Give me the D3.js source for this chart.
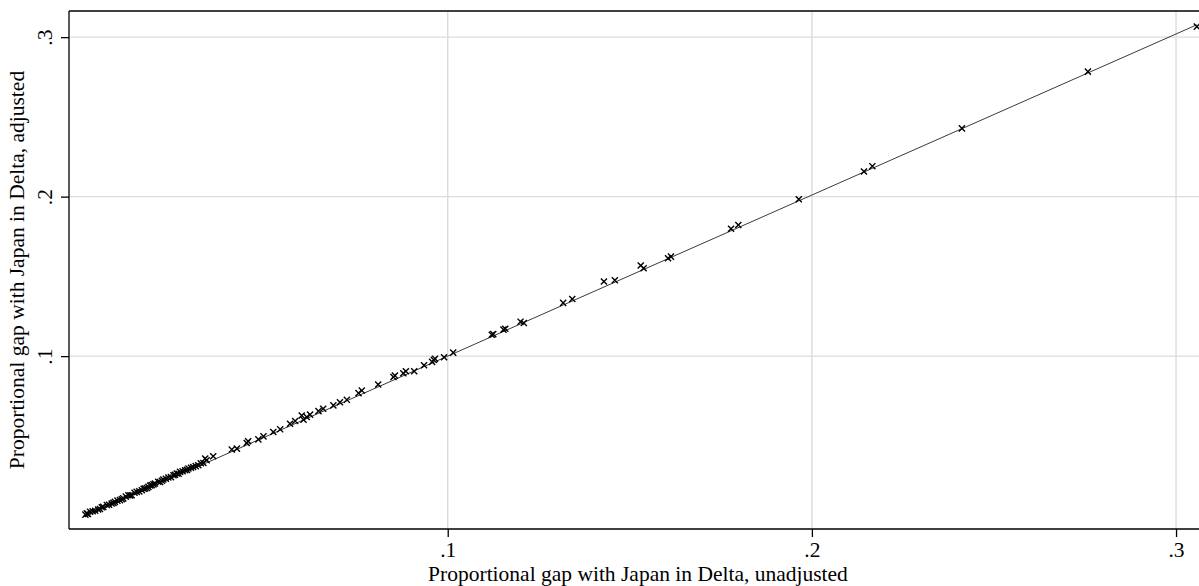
<!DOCTYPE html>
<html>
<head>
<meta charset="utf-8">
<script src="https://cdn.jsdelivr.net/npm/d3@7"></script>
<style>
  html, body { margin: 0; padding: 0; background: #fff; }
  svg { display: block; }
  text { font-family: "Liberation Serif", "Times New Roman", serif; fill: #000; }
</style>
</head>
<body>
<svg id="chart" width="1199" height="586"></svg>
<script>
// ---- data ----
const xUnadjusted = [
  0.0005,0.0009,0.0018,0.0032,0.0045,0.0054,0.0064,0.0077,0.0086,0.0100,0.0109,0.0123,0.0132,0.0146,0.0160,0.0169,
  0.0178,0.0187,0.0196,0.0210,0.0219,0.0233,0.0247,0.0256,0.0265,0.0279,0.0288,0.0301,0.0315,0.0329,0.0338,
  0.0012,0.0025,0.0040,0.0050,0.0070,0.0082,0.0093,0.0105,0.0116,0.0128,0.0140,0.0153,0.0165,0.0174,0.0183,0.0192,
  0.0205,0.0215,0.0226,0.0240,0.0251,0.0261,0.0272,0.0284,0.0295,0.0308,0.0322,
  0.0334,0.0356,0.0407,0.0421,0.0448,0.0452,0.0480,0.0494,0.0521,0.0540,0.0567,0.0581,0.0599,0.0604,0.0613,0.0622,
  0.0645,0.0658,0.0686,0.0704,0.0723,0.0755,0.0764,0.0809,0.0851,0.0855,0.0878,0.0885,0.0908,0.0935,0.0957,0.0962,
  0.0965,0.0990,0.1015,
  0.1121,0.1125,0.1153,0.1158,0.1200,0.1209,0.1317,0.1342,0.1429,0.1459,0.1530,0.1538,0.1605,0.1613,0.1778,0.1798,
  0.1964,0.2143,0.2166,0.2412,0.2758,0.3057
];
const yAdjusted = [
  0.0006,0.0014,0.0024,0.0030,0.0041,0.0055,0.0066,0.0076,0.0086,0.0097,0.0108,0.0128,0.0128,0.0149,0.0159,0.0170,
  0.0180,0.0191,0.0201,0.0211,0.0226,0.0239,0.0253,0.0264,0.0274,0.0284,0.0295,0.0305,0.0316,0.0330,0.0347,
  0.0010,0.0027,0.0038,0.0052,0.0068,0.0080,0.0094,0.0103,0.0119,0.0126,0.0143,0.0152,0.0168,0.0173,0.0189,0.0196,
  0.0212,0.0219,0.0231,0.0241,0.0256,0.0262,0.0278,0.0287,0.0300,0.0310,0.0328,
  0.0358,0.0372,0.0414,0.0420,0.0455,0.0466,0.0478,0.0497,0.0524,0.0541,0.0576,0.0593,0.0628,0.0601,0.0618,0.0633,
  0.0655,0.0670,0.0691,0.0711,0.0726,0.0768,0.0784,0.0822,0.0869,0.0878,0.0893,0.0905,0.0905,0.0943,0.0964,0.0976,
  0.0984,0.0993,0.1022,
  0.1134,0.1138,0.1166,0.1172,0.1216,0.1208,0.1334,0.1358,0.1468,0.1476,0.1568,0.1551,0.1614,0.1624,0.1799,0.1822,
  0.1984,0.2158,0.2191,0.2428,0.2784,0.3066
];
// linear fit line (intercept, slope)
const fitIntercept = -0.001;
const fitSlope = 1.01;

const xTickValues = [0.1, 0.2, 0.3];
const xTickLabels = [".1", ".2", ".3"];
const yTickValues = [0.1, 0.2, 0.3];
const yTickLabels = [".1", ".2", ".3"];

const xTitle = "Proportional gap with Japan in Delta, unadjusted";
const yTitle = "Proportional gap with Japan in Delta, adjusted";

// ---- layout ----
const L = 69, R = 1207, T = 11, B = 529;
const FS = 21.5;
const svg = d3.select("#chart");

const x = d3.scaleLinear().domain([-0.004, 0.3085]).range([L, R]);
const y = d3.scaleLinear().domain([-0.0084, 0.3164]).range([B, T]);

// gridlines
const grid = svg.append("g");
grid.selectAll("line.gx").data(xTickValues).join("line")
  .attr("x1", d => x(d)).attr("x2", d => x(d))
  .attr("y1", T).attr("y2", B)
  .attr("stroke", "#dcdcdc").attr("stroke-width", 1.4);
grid.selectAll("line.gy").data(yTickValues).join("line")
  .attr("y1", d => y(d)).attr("y2", d => y(d))
  .attr("x1", L).attr("x2", R)
  .attr("stroke", "#dcdcdc").attr("stroke-width", 1.4);

// fit line
const xs = d3.extent(xUnadjusted);
const fitPts = xs.map(v => [v, fitIntercept + fitSlope * v]);
svg.append("path")
  .attr("d", d3.line().x(d => x(d[0])).y(d => y(d[1]))(fitPts))
  .attr("fill", "none").attr("stroke", "#3a3a3a").attr("stroke-width", 1);

// markers (x shapes)
const pts = xUnadjusted.map((v, i) => [v, yAdjusted[i]]);
const sym = d3.symbol().type(d3.symbolX).size(26);
svg.append("g").selectAll("path").data(pts).join("path")
  .attr("transform", d => `translate(${x(d[0])},${y(d[1])})`)
  .attr("d", sym)
  .attr("fill", "none").attr("stroke", "#000").attr("stroke-width", 1.4);

// frame
svg.append("line").attr("x1", L).attr("x2", R).attr("y1", T).attr("y2", T)
  .attr("stroke", "#000").attr("stroke-width", 1.3);
svg.append("line").attr("x1", R).attr("x2", R).attr("y1", T).attr("y2", B)
  .attr("stroke", "#000").attr("stroke-width", 1.3);

// x axis
const xAxis = d3.axisBottom(x).tickValues(xTickValues)
  .tickFormat((d, i) => xTickLabels[i]).tickSize(8);
const gx = svg.append("g").attr("transform", `translate(0,${B})`).call(xAxis);
gx.select(".domain").attr("stroke", "#000").attr("stroke-width", 1.3)
  .attr("d", `M${L},0H${R}`);
gx.selectAll(".tick line").attr("stroke", "#000").attr("stroke-width", 1.3);
gx.selectAll(".tick text").attr("font-size", FS).attr("dy", null).attr("y", 28)
  .style("font-family", "'Liberation Serif', serif");

// y axis
const yAxis = d3.axisLeft(y).tickValues(yTickValues)
  .tickFormat((d, i) => yTickLabels[i]).tickSize(8);
const gy = svg.append("g").attr("transform", `translate(${L},0)`).call(yAxis);
gy.select(".domain").attr("stroke", "#000").attr("stroke-width", 1.3)
  .attr("d", `M0,${T}V${B}`);
gy.selectAll(".tick line").attr("stroke", "#000").attr("stroke-width", 1.3);
gy.selectAll(".tick text")
  .attr("font-size", FS)
  .attr("transform", "rotate(-90)")
  .attr("x", 0).attr("y", -17).attr("dy", null)
  .attr("text-anchor", "middle")
  .style("font-family", "'Liberation Serif', serif");

// titles
svg.append("text").attr("x", (L + R) / 2).attr("y", 581)
  .attr("text-anchor", "middle").attr("font-size", FS).text(xTitle);
svg.append("text").attr("transform", `translate(24,${(T + B) / 2}) rotate(-90)`)
  .attr("text-anchor", "middle").attr("font-size", FS).text(yTitle);
</script>
</body>
</html>
